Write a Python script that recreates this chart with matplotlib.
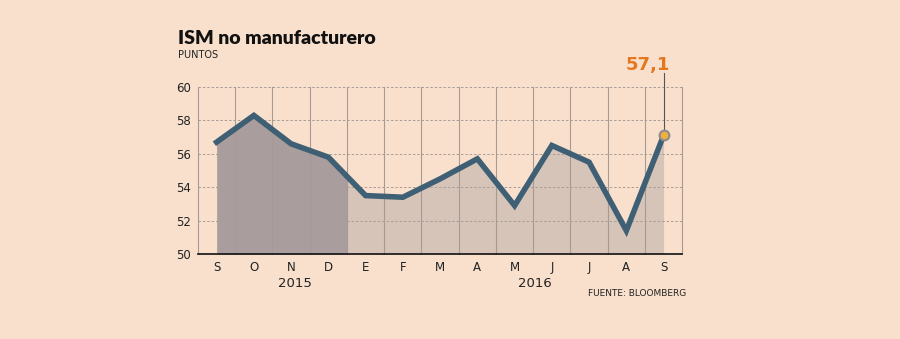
import matplotlib
matplotlib.use("Agg")
import matplotlib.pyplot as plt
import numpy as np

months = ["S", "O", "N", "D", "E", "F", "M", "A", "M", "J", "J", "A", "S"]
values = [56.7, 58.3, 56.6, 55.8, 53.5, 53.4, 54.5, 55.7, 52.9, 56.5, 55.5, 51.4, 57.1]
years = ["2015", "2016"]
yticks = [50, 52, 54, 56, 58, 60]

BG = "#f9e0cd"
DARK = "#a99e9d"
LIGHT = "#d6c4b9"
LINE = "#3f5f74"
ORANGE = "#e3781e"

plt.rcParams['font.family'] = ['DejaVu Sans']

fig = plt.figure(figsize=(9, 3.39), dpi=100, facecolor=BG)
ax = fig.add_axes([0.22, 0.2507, 0.538, 0.4926])
ax.set_facecolor(BG)

x = np.arange(len(values))
v = np.array(values)
split = 3.5
yi = np.interp(split, x, v)
xd = np.concatenate([x[:4], [split]])
yd = np.concatenate([v[:4], [yi]])
xl = np.concatenate([[split], x[4:]])
yl = np.concatenate([[yi], v[4:]])
ax.fill_between(xd, 50, yd, color=DARK, lw=0, zorder=1)
ax.fill_between(xl, 50, yl, color=LIGHT, lw=0, zorder=1)

for g in np.arange(-0.5, 13, 1.0):
    ax.axvline(g, color="#a69a94", lw=0.8, zorder=2, clip_on=False)
for yv in yticks[1:]:
    ax.axhline(yv, color="#a89c96", lw=0.7, ls=(0, (2.5, 2)), zorder=2)

ax.plot(x, v, color=LINE, lw=4, solid_joinstyle="miter", zorder=3)
ax.plot(x[-1], v[-1], "o", ms=7, mfc="#f0b040", mec="#8c8c8c", mew=1.5, zorder=4)

ax.set_xlim(-0.5, 12.5)
ax.set_ylim(50, 60)
ax.set_xticks(x)
ax.set_xticklabels(months)
ax.set_yticks(yticks)
ax.tick_params(length=0, labelsize=8.5, colors="#222222", pad=5)
for s in ["top", "right", "left"]:
    ax.spines[s].set_visible(False)
ax.spines["bottom"].set_color("#111111")
ax.spines["bottom"].set_linewidth(1.2)
ax.spines["bottom"].set_zorder(5)

ax.text(2.1, -0.135, years[0], transform=ax.get_xaxis_transform(), ha="center", va="top", fontsize=9.5, color="#222222")
ax.text(8.55, -0.135, years[1], transform=ax.get_xaxis_transform(), ha="center", va="top", fontsize=9.5, color="#222222")

# leader line + value label
ax.plot([x[-1], x[-1]], [v[-1], 60.85], color="#555555", lw=0.8, zorder=2.5, clip_on=False)
ax.text(x[-1] + 0.17, 60.8, "57,1", ha="right", va="bottom", fontsize=13,
        fontweight="bold", color=ORANGE, clip_on=False)

fig.text(178/900, 1-38/339, "ISM no manufacturero", fontsize=14, fontweight="heavy",
         family=["Lato", "DejaVu Sans"], color="#111111", va="center", ha="left")
fig.text(178/900, 1-55/339, "PUNTOS", fontsize=7, color="#222222", va="center", ha="left")
fig.text(686/900, 1-293/339, "FUENTE: BLOOMBERG", fontsize=6.5, color="#222222", va="center", ha="right")

fig.savefig("out.png", dpi=100, facecolor=BG)
